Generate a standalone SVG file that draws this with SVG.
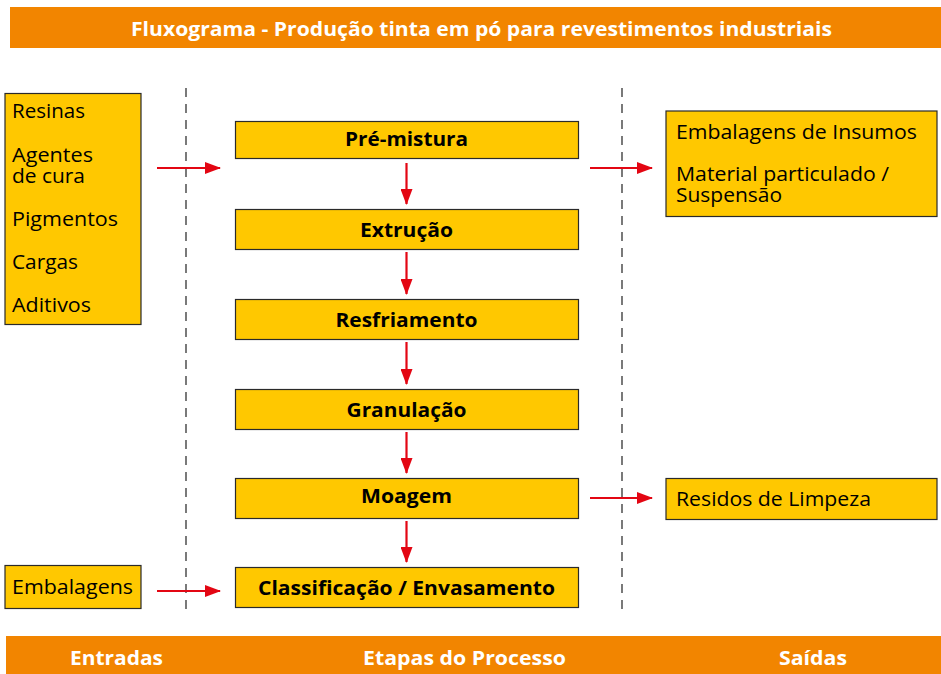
<svg xmlns="http://www.w3.org/2000/svg" width="941" height="674" viewBox="0 0 941 674">
<style>
.bar{fill:#F28500}
.box{fill:#FFC800;stroke:#2a2a2a;stroke-width:1.2}
.bt{font-family:"Open Sans","Noto Sans",sans-serif;font-weight:bold;font-size:20px;fill:#fff}
.pt{font-family:"Open Sans","Noto Sans",sans-serif;font-weight:bold;font-size:19.5px;fill:#000;text-anchor:middle}
.lt{font-family:"Open Sans","Noto Sans",sans-serif;font-size:20.5px;fill:#000}
.dash{stroke:#333;stroke-width:1.3;stroke-dasharray:9 7;fill:none}
.arr{stroke:#E30613;stroke-width:2.2;fill:none;marker-end:url(#ah)}
</style>
<defs>
<marker id="ah" markerWidth="16" markerHeight="12" refX="15" refY="6" orient="auto" markerUnits="userSpaceOnUse">
<path d="M0,0 L16,6 L0,12 Z" fill="#E30613"/>
</marker>
</defs>
<rect width="941" height="674" fill="#fff"/>

<g id="title">
<rect class="bar" x="10" y="7" width="931" height="41"/>
<text class="bt" x="131" y="36" textLength="701" lengthAdjust="spacingAndGlyphs">Fluxograma - Produção tinta em pó para revestimentos industriais</text>
</g>

<g id="guides">
<line class="dash" x1="186" y1="88" x2="186" y2="614"/>
<line class="dash" x1="622" y1="88" x2="622" y2="614"/>
</g>

<g id="entradas">
<rect class="box" x="5" y="93.5" width="136" height="231"/>
<text class="lt" x="12" y="118" textLength="73" lengthAdjust="spacingAndGlyphs">Resinas</text>
<text class="lt" x="12" y="162" textLength="81" lengthAdjust="spacingAndGlyphs">Agentes</text>
<text class="lt" x="12" y="183" textLength="73" lengthAdjust="spacingAndGlyphs">de cura</text>
<text class="lt" x="12" y="226" textLength="106" lengthAdjust="spacingAndGlyphs">Pigmentos</text>
<text class="lt" x="12" y="269" textLength="66" lengthAdjust="spacingAndGlyphs">Cargas</text>
<text class="lt" x="12" y="312" textLength="79" lengthAdjust="spacingAndGlyphs">Aditivos</text>
</g>

<g id="embalagens">
<rect class="box" x="5" y="565.5" width="136" height="43"/>
<text class="lt" x="12" y="594" textLength="121" lengthAdjust="spacingAndGlyphs">Embalagens</text>
</g>

<g id="premistura">
<rect class="box" x="235.5" y="121.5" width="343" height="37"/>
<text class="pt" x="406.5" y="146" textLength="123" lengthAdjust="spacingAndGlyphs">Pré-mistura</text>
</g>
<g id="extrucao">
<rect class="box" x="235.5" y="209.5" width="343" height="40"/>
<text class="pt" x="406.5" y="237" textLength="93" lengthAdjust="spacingAndGlyphs">Extrução</text>
</g>
<g id="resfriamento">
<rect class="box" x="235.5" y="299.5" width="343" height="40"/>
<text class="pt" x="406.5" y="327" textLength="142" lengthAdjust="spacingAndGlyphs">Resfriamento</text>
</g>
<g id="granulacao">
<rect class="box" x="235.5" y="389.5" width="343" height="40"/>
<text class="pt" x="406.5" y="417" textLength="120" lengthAdjust="spacingAndGlyphs">Granulação</text>
</g>
<g id="moagem">
<rect class="box" x="235.5" y="478.5" width="343" height="40"/>
<text class="pt" x="406.5" y="503" textLength="91" lengthAdjust="spacingAndGlyphs">Moagem</text>
</g>
<g id="classificacao">
<rect class="box" x="235.5" y="567.5" width="343" height="40"/>
<text class="pt" x="406.5" y="595" textLength="297" lengthAdjust="spacingAndGlyphs">Classificação / Envasamento</text>
</g>

<g id="saidas1">
<rect class="box" x="666" y="111" width="271" height="105.5"/>
<text class="lt" x="676" y="139" textLength="241" lengthAdjust="spacingAndGlyphs">Embalagens de Insumos</text>
<text class="lt" x="676" y="181" textLength="213" lengthAdjust="spacingAndGlyphs">Material particulado /</text>
<text class="lt" x="676" y="202" textLength="106" lengthAdjust="spacingAndGlyphs">Suspensão</text>
</g>

<g id="residuos">
<rect class="box" x="666" y="478.5" width="271" height="41"/>
<text class="lt" x="676" y="506" textLength="195" lengthAdjust="spacingAndGlyphs">Residos de Limpeza</text>
</g>

<g id="connectors">
<line class="arr" x1="157" y1="168" x2="220" y2="168"/>
<line class="arr" x1="590" y1="168" x2="652" y2="168"/>
<line class="arr" x1="590" y1="498" x2="652" y2="498"/>
<line class="arr" x1="157" y1="591" x2="220" y2="591"/>
<line class="arr" x1="406.5" y1="163" x2="406.5" y2="204"/>
<line class="arr" x1="406.5" y1="252" x2="406.5" y2="294"/>
<line class="arr" x1="406.5" y1="342" x2="406.5" y2="384"/>
<line class="arr" x1="406.5" y1="432" x2="406.5" y2="473"/>
<line class="arr" x1="406.5" y1="521" x2="406.5" y2="562"/>
</g>

<g id="footer">
<rect class="bar" x="6" y="636" width="935" height="38"/>
<text class="bt" x="70" y="665" textLength="93" lengthAdjust="spacingAndGlyphs">Entradas</text>
<text class="bt" x="363" y="665" textLength="203" lengthAdjust="spacingAndGlyphs">Etapas do Processo</text>
<text class="bt" x="779" y="665" textLength="68" lengthAdjust="spacingAndGlyphs">Saídas</text>
</g>
</svg>
